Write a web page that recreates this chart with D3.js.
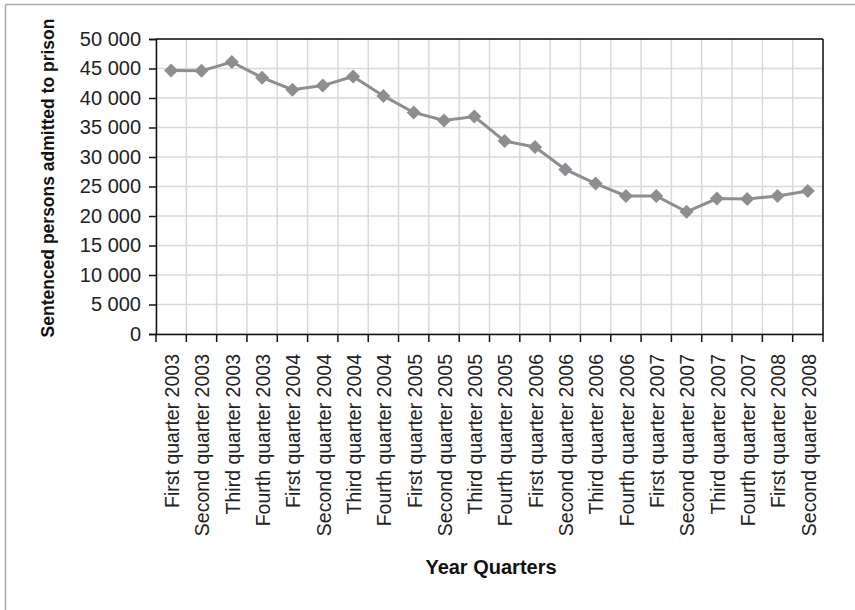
<!DOCTYPE html>
<html><head><meta charset="utf-8">
<script src="https://cdn.jsdelivr.net/npm/d3@7"></script>
<style>html,body{margin:0;padding:0;background:#fff;}svg{display:block;}</style>
</head><body>
<svg id="chart" width="855" height="610"></svg>
<script>
const categories = ["First quarter 2003","Second quarter 2003","Third quarter 2003","Fourth quarter 2003",
"First quarter 2004","Second quarter 2004","Third quarter 2004","Fourth quarter 2004",
"First quarter 2005","Second quarter 2005","Third quarter 2005","Fourth quarter 2005",
"First quarter 2006","Second quarter 2006","Third quarter 2006","Fourth quarter 2006",
"First quarter 2007","Second quarter 2007","Third quarter 2007","Fourth quarter 2007",
"First quarter 2008","Second quarter 2008"];
const admissions = [44650,44600,46100,43450,41400,42100,43650,40350,37550,36200,36850,32700,31700,27900,25500,23400,23400,20700,22950,22900,23400,24250];
const yTicks = [0,5000,10000,15000,20000,25000,30000,35000,40000,45000,50000];
const yTitle = "Sentenced persons admitted to prison";
const xTitle = "Year Quarters";

const svg = d3.select("#chart");
const W = 855, H = 610;
const m = {left:156, right:855-823, top:39, bottom:610-334};
const iw = W - m.left - m.right, ih = H - m.top - m.bottom;
const font = "'Liberation Sans', Arial, Helvetica, sans-serif";

// outer frame (top and left only)
svg.append("line").attr("x1",5.5).attr("x2",855).attr("y1",4.5).attr("y2",4.5).attr("stroke","#aaaaaa").attr("stroke-width",1.5);
svg.append("line").attr("x1",5.5).attr("x2",5.5).attr("y1",4.5).attr("y2",610).attr("stroke","#aaaaaa").attr("stroke-width",1.5);

const g = svg.append("g").attr("transform",`translate(${m.left},${m.top})`);
const x = d3.scaleBand().domain(categories).range([0,iw]).padding(0);
const y = d3.scaleLinear().domain([0,50000]).range([ih,0]);

// grid
g.append("g").selectAll("line.h").data(yTicks).join("line")
  .attr("x1",0).attr("x2",iw).attr("y1",d=>y(d)).attr("y2",d=>y(d))
  .attr("stroke","#d9d9d9").attr("stroke-width",1.5);
const bounds = categories.map(c=>x(c)).concat([iw]);
g.append("g").selectAll("line.v").data(bounds).join("line")
  .attr("x1",d=>d).attr("x2",d=>d).attr("y1",0).attr("y2",ih)
  .attr("stroke","#d9d9d9").attr("stroke-width",1.5);

// top & right border
g.append("line").attr("x1",0).attr("x2",iw).attr("y1",0).attr("y2",0).attr("stroke","#111").attr("stroke-width",1.5);
g.append("line").attr("x1",iw).attr("x2",iw).attr("y1",0).attr("y2",ih).attr("stroke","#111").attr("stroke-width",1.5);

// y axis
const fmt = d => d3.format(",")(d).replace(/,/g," ");
const yAxis = g.append("g").call(d3.axisLeft(y).tickValues(yTicks).tickFormat(fmt).tickSize(7).tickPadding(8));
yAxis.select(".domain").attr("stroke","#111").attr("stroke-width",1.5);
yAxis.selectAll(".tick line").attr("stroke","#111").attr("stroke-width",1.5);
yAxis.selectAll("text").attr("font-family",font).attr("font-size",20).attr("fill","#222");

// x axis
const xAxis = g.append("g").attr("transform",`translate(0,${ih})`)
  .call(d3.axisBottom(x).tickSize(0).tickFormat(d=>d));
xAxis.select(".domain").attr("stroke","#111").attr("stroke-width",1.5);
xAxis.selectAll("text").attr("font-family",font).attr("font-size",19.5).attr("fill","#222")
  .attr("text-anchor","end").attr("transform","rotate(-90)")
  .attr("x",-20).attr("y",1).attr("dy","0.35em");
g.append("g").selectAll("line").data(bounds).join("line")
  .attr("x1",d=>d).attr("x2",d=>d).attr("y1",ih).attr("y2",ih+8)
  .attr("stroke","#111").attr("stroke-width",1.5);

// line & markers
const cx = d => x(d) + x.bandwidth()/2;
const line = d3.line().x((d,i)=>cx(categories[i])).y(d=>y(d));
g.append("path").datum(admissions).attr("d",line).attr("fill","none")
  .attr("stroke","#8d8e91").attr("stroke-width",3);
g.append("g").selectAll("path").data(admissions).join("path")
  .attr("d",d3.symbol().type(d3.symbolDiamond2).size(125))
  .attr("transform",(d,i)=>`translate(${cx(categories[i])},${y(d)})`)
  .attr("fill","#8d8e91");

// titles
svg.append("text").attr("transform","translate(48,178) rotate(-90)")
  .attr("text-anchor","middle").attr("dy","0.35em")
  .attr("font-family",font).attr("font-weight","bold").attr("font-size",17.5).attr("fill","#111")
  .text(yTitle);
svg.append("text").attr("x",491).attr("y",567).attr("dy","0.35em")
  .attr("text-anchor","middle")
  .attr("font-family",font).attr("font-weight","bold").attr("font-size",20).attr("fill","#111")
  .text(xTitle);
</script>
</body></html>
